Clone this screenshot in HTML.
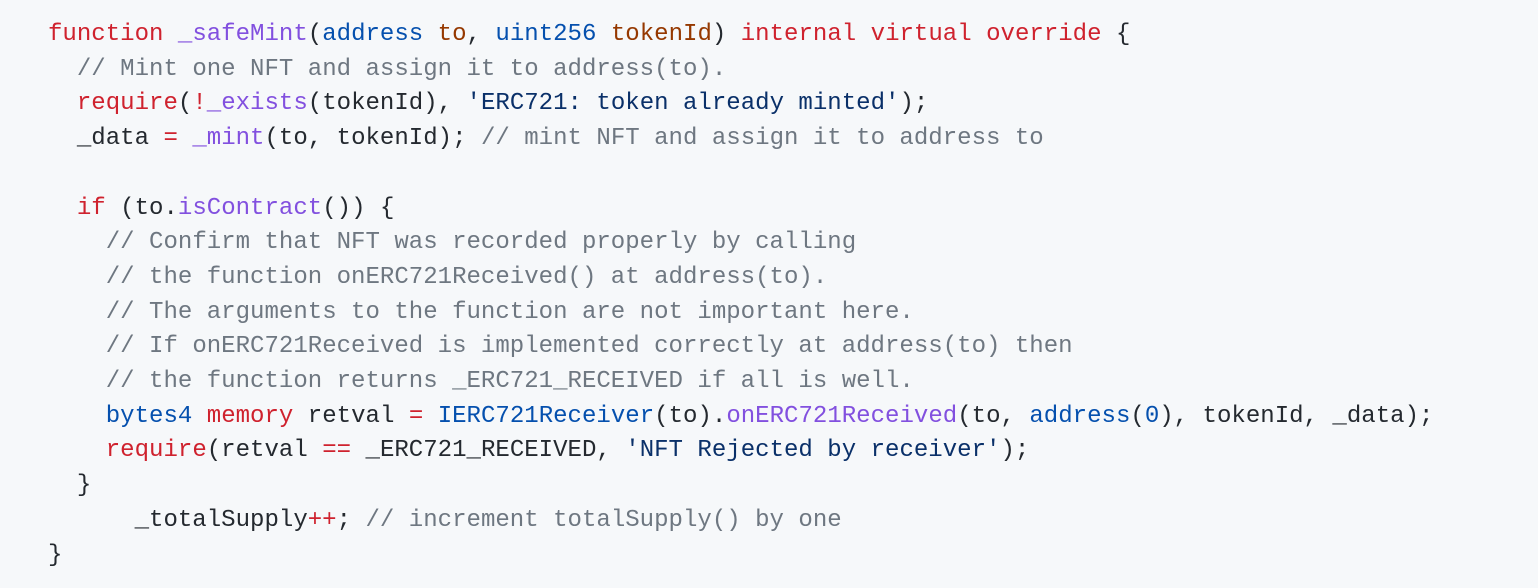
<!DOCTYPE html>
<html><head><meta charset="utf-8"><style>
html,body{margin:0;padding:0;background:#f6f8fa;width:1538px;height:588px;overflow:hidden}
pre{margin:0;position:absolute;left:48px;top:18px;font-family:"Liberation Mono","DejaVu Sans Mono",monospace;font-size:24.05px;line-height:34.7px;color:#24292f;white-space:pre}
.k{color:#cf222e}.f{color:#8250df}.t{color:#0550ae}.p{color:#953800}.c{color:#6e7781}.s{color:#0a3069}
</style></head><body><pre><span class="k">function</span> <span class="f">_safeMint</span>(<span class="t">address</span> <span class="p">to</span>, <span class="t">uint256</span> <span class="p">tokenId</span>) <span class="k">internal</span> <span class="k">virtual</span> <span class="k">override</span> {
  <span class="c">// Mint one NFT and assign it to address(to).</span>
  <span class="k">require</span>(<span class="k">!</span><span class="f">_exists</span>(tokenId), <span class="s">'ERC721: token already minted'</span>);
  _data <span class="k">=</span> <span class="f">_mint</span>(to, tokenId); <span class="c">// mint NFT and assign it to address to</span>

  <span class="k">if</span> (to.<span class="f">isContract</span>()) {
    <span class="c">// Confirm that NFT was recorded properly by calling</span>
    <span class="c">// the function onERC721Received() at address(to).</span>
    <span class="c">// The arguments to the function are not important here.</span>
    <span class="c">// If onERC721Received is implemented correctly at address(to) then</span>
    <span class="c">// the function returns _ERC721_RECEIVED if all is well.</span>
    <span class="t">bytes4</span> <span class="k">memory</span> retval <span class="k">=</span> <span class="t">IERC721Receiver</span>(to).<span class="f">onERC721Received</span>(to, <span class="t">address</span>(<span class="t">0</span>), tokenId, _data);
    <span class="k">require</span>(retval <span class="k">==</span> _ERC721_RECEIVED, <span class="s">'NFT Rejected by receiver'</span>);
  }
      _totalSupply<span class="k">++</span>; <span class="c">// increment totalSupply() by one</span>
}</pre></body></html>
